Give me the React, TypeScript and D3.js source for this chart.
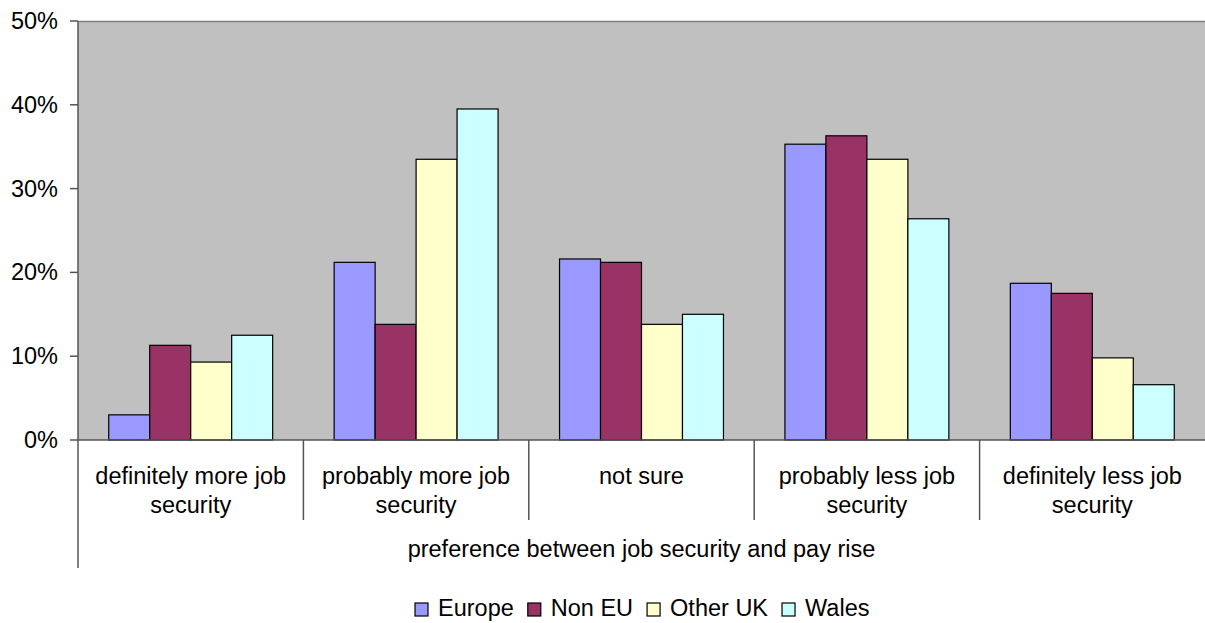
import React, { useEffect, useRef } from "react";
import * as d3 from "d3";

const categories = [
  ["definitely more job", "security"],
  ["probably more job", "security"],
  ["not sure"],
  ["probably less job", "security"],
  ["definitely less job", "security"],
];
const seriesNames = ["Europe", "Non EU", "Other UK", "Wales"];
const seriesColors = ["#9999FF", "#993366", "#FFFFCC", "#CCFFFF"];
const europe = [3.0, 21.2, 21.6, 35.3, 18.7];
const nonEU = [11.3, 13.8, 21.2, 36.3, 17.5];
const otherUK = [9.3, 33.5, 13.8, 33.5, 9.8];
const wales = [12.5, 39.5, 15.0, 26.4, 6.6];
const yTicks = [0, 10, 20, 30, 40, 50];
const axisTitle = "preference between job security and pay rise";

const W = 1205, H = 623;
const L = 78, R = 1205, T = 21, B = 440;
const FONT = "'Liberation Sans', Arial, sans-serif";
const FS = 23.5;

export default function App() {
  const ref = useRef<SVGSVGElement>(null);
  useEffect(() => {
    const svg = d3.select(ref.current);
    svg.selectAll("*").remove();
    const series = [europe, nonEU, otherUK, wales];
    const x = d3.scaleBand<number>().domain(d3.range(categories.length)).range([L, R]).paddingInner(0).paddingOuter(0);
    const cw = x.bandwidth();
    const bw = cw / 5.5;
    const y = d3.scaleLinear().domain([0, 50]).range([B, T]);

    svg.append("rect").attr("x", L).attr("y", T).attr("width", R - L).attr("height", B - T).attr("fill", "#C0C0C0");
    svg.append("line").attr("x1", L).attr("x2", R).attr("y1", T + 0.5).attr("y2", T + 0.5).attr("stroke", "#808080").attr("stroke-width", 1.5);

    series.forEach((vals, si) => {
      svg.append("g").selectAll("rect").data(vals).join("rect")
        .attr("x", (_, i) => x(i)! + cw * 0.75 / 5.5 + si * bw)
        .attr("y", (d) => y(d))
        .attr("width", bw)
        .attr("height", (d) => B - y(d))
        .attr("fill", seriesColors[si])
        .attr("stroke", "#000")
        .attr("stroke-width", 1.2);
    });

    svg.append("line").attr("x1", L).attr("x2", L).attr("y1", T).attr("y2", 568).attr("stroke", "#555").attr("stroke-width", 1.5);
    svg.append("line").attr("x1", L).attr("x2", R).attr("y1", B).attr("y2", B).attr("stroke", "#555").attr("stroke-width", 1.5);
    yTicks.forEach((t) => {
      svg.append("line").attr("x1", 70).attr("x2", L).attr("y1", y(t)).attr("y2", y(t)).attr("stroke", "#555").attr("stroke-width", 1.5);
      svg.append("text").attr("x", 58).attr("y", y(t) + 8).attr("text-anchor", "end")
        .attr("font-family", FONT).attr("font-size", FS).attr("fill", "#000").text(t + "%");
    });
    categories.forEach((lines, i) => {
      if (i > 0) {
        svg.append("line").attr("x1", x(i)!).attr("x2", x(i)!).attr("y1", B).attr("y2", 520).attr("stroke", "#555").attr("stroke-width", 1.5);
      }
      lines.forEach((ln, li) => {
        svg.append("text").attr("x", x(i)! + cw / 2).attr("y", 484 + li * 29).attr("text-anchor", "middle")
          .attr("font-family", FONT).attr("font-size", FS).attr("fill", "#000").text(ln);
      });
    });
    svg.append("text").attr("x", (L + R) / 2).attr("y", 557).attr("text-anchor", "middle")
      .attr("font-family", FONT).attr("font-size", FS).attr("fill", "#000").text(axisTitle);

    // legend
    const lg = svg.append("g");
    let cx = 0;
    const sq = 13, gapT = 10, gapI = 14;
    seriesNames.forEach((n, i) => {
      const g = lg.append("g").attr("transform", `translate(${cx},0)`);
      g.append("rect").attr("x", 0).attr("y", -13).attr("width", sq).attr("height", sq)
        .attr("fill", seriesColors[i]).attr("stroke", "#000").attr("stroke-width", 1.2);
      const t = g.append("text").attr("x", sq + gapT).attr("y", 0)
        .attr("font-family", FONT).attr("font-size", FS).attr("fill", "#000").text(n);
      const tw = (t.node() as SVGTextElement).getComputedTextLength();
      cx += sq + gapT + tw + gapI;
    });
    const total = cx - gapI;
    lg.attr("transform", `translate(${(415 + 415 + total) / 2 - total / 2},616)`);
  }, []);
  return (
    <svg ref={ref} width={W} height={H} style={{ position: "absolute", left: 0, top: 0, background: "#fff" }} />
  );
}
